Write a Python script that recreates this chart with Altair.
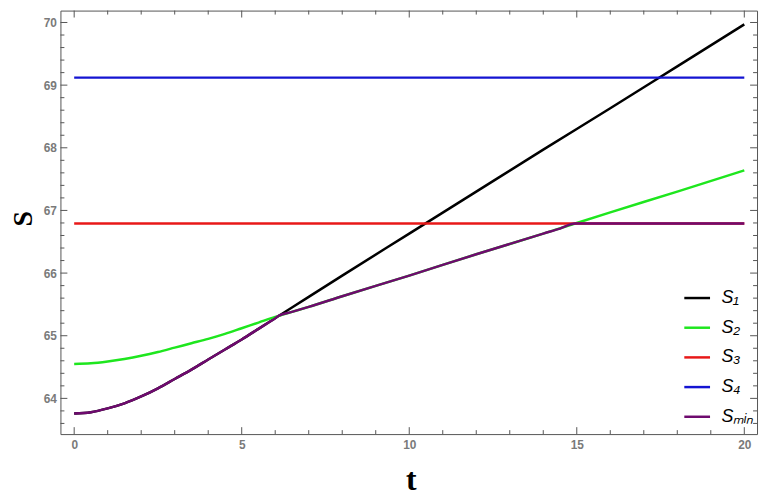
import altair as alt
import pandas as pd

# ---- data ----
t_s1 = [0, 0.5, 1, 1.5, 2, 2.5, 3, 3.5, 4, 4.5, 5, 5.5, 6, 6.5, 7, 8, 10, 12, 14, 16, 18, 20]
s1 = [63.76, 63.78, 63.84, 63.92, 64.03, 64.16, 64.31, 64.46, 64.62, 64.78, 64.94, 65.11, 65.28,
      65.45, 65.62, 65.96, 66.63, 67.30, 67.97, 68.63, 69.30, 69.97]

t_s2 = [0, 0.5, 1, 1.5, 2, 2.5, 3, 3.5, 4, 4.5, 5, 5.5, 6, 6.5, 7, 8, 10, 12, 14, 16, 18, 20]
s2 = [64.55, 64.56, 64.59, 64.63, 64.68, 64.74, 64.81, 64.88, 64.95, 65.03, 65.12, 65.21, 65.30,
      65.38, 65.46, 65.63, 65.96, 66.30, 66.63, 66.97, 67.30, 67.64]

t_s3 = [0, 20]
s3 = [66.79, 66.79]

t_s4 = [0, 20]
s4 = [69.12, 69.12]

t_smin = [0, 0.5, 1, 1.5, 2, 2.5, 3, 3.5, 4, 4.5, 5, 5.5, 6, 6.11, 6.5, 7, 8, 10, 12, 14, 14.5, 14.95, 16, 18, 20]
smin = [63.76, 63.78, 63.84, 63.92, 64.03, 64.16, 64.31, 64.46, 64.62, 64.78, 64.94, 65.11, 65.28,
        65.32, 65.38, 65.46, 65.63, 65.96, 66.30, 66.63, 66.71, 66.79, 66.79, 66.79, 66.79]

names = ["S\u2081", "S\u2082", "S\u2083", "S\u2084", "S\u2098\u1d62\u2099"]
colors = ["#000000", "#1ee61e", "#e81818", "#1414d2", "#6e0a6e"]

x_major = [0, 5, 10, 15, 20]
x_minor = [i for i in range(21) if i % 5 != 0]
y_major = [64, 65, 66, 67, 68, 69, 70]
y_minor = [round(63.6 + 0.2 * i, 1) for i in range(33) if abs(63.6 + 0.2 * i - round(63.6 + 0.2 * i)) > 0.01]

W, H = 704, 428

xs = alt.Scale(domain=[-0.41, 20.38], nice=False, zero=False)
ys = alt.Scale(domain=[63.43, 70.19], nice=False, zero=False)
cs = alt.Scale(domain=names, range=colors)

label_font = "Liberation Sans"
xaxis = alt.Axis(values=x_major, ticks=False, domain=False, grid=False, labelPadding=6,
                 labelFont=label_font, labelFontSize=12, labelFontWeight="bold", labelColor="#7a7a7a",
                 title="t", titleFont="Liberation Serif", titleFontSize=32, titleFontWeight="bold",
                 titleColor="#000000", titleX=354, titleY=56, titleBaseline="alphabetic",
                 titleAlign="center")
yaxis = alt.Axis(values=y_major, ticks=False, domain=False, grid=False, labelPadding=4,
                 labelFont=label_font, labelFontSize=12, labelFontWeight="bold", labelColor="#7a7a7a",
                 title="S", titleFont="Liberation Serif", titleFontSize=28, titleFontWeight="bold",
                 titleColor="#000000", titleX=-37, titleY=210, titleAngle=-90,
                 titleBaseline="middle", titleAlign="center")
legend = alt.Legend(orient="none", legendX=629, legendY=276, title=None, symbolType="stroke",
                    symbolSize=676, symbolStrokeWidth=2.5, labelFont=label_font, labelFontSize=18,
                    labelFontStyle="italic", labelColor="#000000", rowPadding=6, labelOffset=10,
                    padding=0)


def series(t, v, name):
    df = pd.DataFrame({"t": t, "S": v, "series": name})
    return alt.Chart(df).mark_line(strokeWidth=2.5, clip=True, interpolate="monotone").encode(
        x=alt.X("t:Q", scale=xs, axis=xaxis),
        y=alt.Y("S:Q", scale=ys, axis=yaxis),
        color=alt.Color("series:N", scale=cs, legend=legend),
    )


def xticks(vals, length):
    df = pd.DataFrame({"t": vals})
    base = alt.Chart(df).mark_rule(color="#555555", strokeWidth=1)
    bottom = base.encode(x=alt.X("t:Q", scale=xs, axis=xaxis), y=alt.value(H), y2=alt.value(H - length))
    top = base.encode(x=alt.X("t:Q", scale=xs, axis=xaxis), y=alt.value(0), y2=alt.value(length))
    return bottom + top


def yticks(vals, length):
    df = pd.DataFrame({"S": vals})
    base = alt.Chart(df).mark_rule(color="#555555", strokeWidth=1)
    left = base.encode(y=alt.Y("S:Q", scale=ys, axis=yaxis), x=alt.value(0), x2=alt.value(length))
    right = base.encode(y=alt.Y("S:Q", scale=ys, axis=yaxis), x=alt.value(W), x2=alt.value(W - length))
    return left + right


chart = alt.layer(
    xticks(x_major, 7),
    xticks(x_minor, 4),
    yticks(y_major, 7),
    yticks(y_minor, 4),
    series(t_s1, s1, names[0]),
    series(t_s2, s2, names[1]),
    series(t_s3, s3, names[2]),
    series(t_s4, s4, names[3]),
    series(t_smin, smin, names[4]),
).properties(
    width=W, height=H,
    autosize=alt.AutoSizeParams(type="none"),
    padding={"left": 53, "top": 0, "right": 3, "bottom": 64},
).configure_view(
    stroke="#555555", strokeWidth=1
)

chart.save("out.html", embed_options={"renderer": "svg", "actions": False})
